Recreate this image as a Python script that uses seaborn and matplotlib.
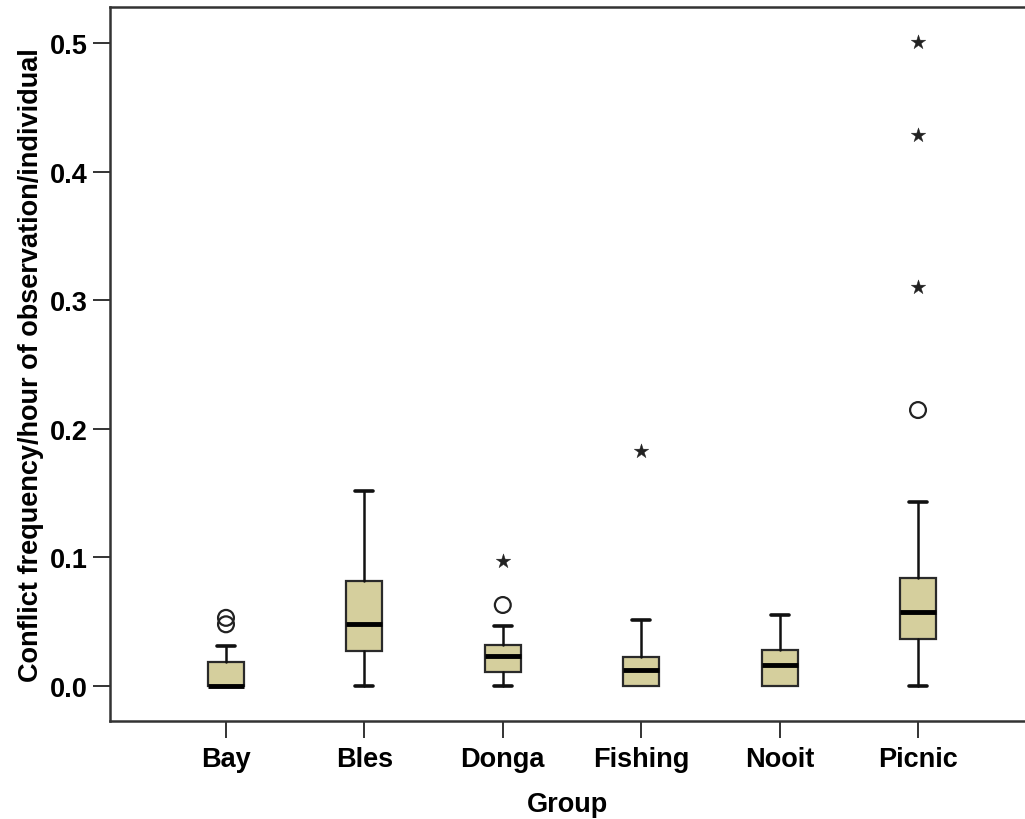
"""SPSS-style boxplot of conflict frequency per group, redrawn with seaborn."""

import matplotlib

matplotlib.use("Agg")

import matplotlib.pyplot as plt
import pandas as pd
import seaborn as sns

# box statistics
groups = ["Bay", "Bles", "Donga", "Fishing", "Nooit", "Picnic"]
whisker_low = [0.0, 0.0, 0.0, 0.0, 0.0, 0.0]
q1 = [0.0, 0.027, 0.0107, 0.0, 0.0, 0.0365]
median = [0.0, 0.048, 0.023, 0.0127, 0.0163, 0.0573]
q3 = [0.0187, 0.0817, 0.032, 0.0228, 0.028, 0.084]
whisker_high = [0.031, 0.1516, 0.047, 0.051, 0.055, 0.1433]

# outliers (circles) and extremes (stars)
outlier_group = ["Bay", "Bay", "Donga", "Picnic"]
outlier_value = [0.053, 0.048, 0.063, 0.2146]
extreme_group = ["Donga", "Fishing", "Picnic", "Picnic", "Picnic"]
extreme_value = [0.0975, 0.1825, 0.31, 0.4287, 0.5005]

BOX_COLOR = "#D5CF9D"
INK = "#111111"

sns.set_theme(style="white")
plt.rcParams["font.family"] = ["Liberation Sans", "DejaVu Sans"]
plt.rcParams["font.weight"] = "bold"
plt.rcParams["text.color"] = "black"
plt.rcParams["axes.labelcolor"] = "black"
plt.rcParams["xtick.color"] = "black"
plt.rcParams["ytick.color"] = "black"

fig = plt.figure(figsize=(10.25, 8.2), dpi=100)
ax = fig.add_axes([110 / 1025, 1 - 722 / 820, 1 - 110 / 1025, (722 - 8) / 820])

stats = [
    {"label": g, "whislo": lo, "q1": a, "med": m, "q3": b, "whishi": hi, "fliers": []}
    for g, lo, a, m, b, hi in zip(groups, whisker_low, q1, median, q3, whisker_high)
]
parts = ax.bxp(
    stats,
    positions=range(len(groups)),
    widths=0.26,
    capwidths=0.13,
    patch_artist=True,
    showfliers=False,
    boxprops=dict(facecolor=BOX_COLOR, edgecolor="#2a2a2a", linewidth=1.6),
    medianprops=dict(color="black", linewidth=3.5, solid_capstyle="butt"),
    whiskerprops=dict(color=INK, linewidth=1.8),
    capprops=dict(color=INK, linewidth=2.6),
)
# SPSS draws no lower cap when the whisker has zero length
for i, (lo, a) in enumerate(zip(whisker_low, q1)):
    if lo >= a:
        parts["caps"][2 * i].set_visible(False)

pos = {g: i for i, g in enumerate(groups)}
circles = pd.DataFrame({"x": [pos[g] for g in outlier_group], "y": outlier_value})
stars = pd.DataFrame({"x": [pos[g] for g in extreme_group], "y": extreme_value})

sns.scatterplot(
    data=circles, x="x", y="y", ax=ax, marker="o", s=130,
    facecolor="none", edgecolor="#222222", linewidth=1.6, zorder=5,
)
sns.scatterplot(
    data=stars, x="x", y="y", ax=ax, marker="*", s=120,
    color="#222222", edgecolor="#222222", linewidth=0.3, zorder=5,
)

ax.set_xlim(-0.838, 5.773)
ax.set_ylim(-0.0272, 0.528)
ax.set_xticks(range(len(groups)))
ax.set_xticklabels(groups)
ax.set_yticks([0.0, 0.1, 0.2, 0.3, 0.4, 0.5])
ax.set_yticklabels(["0.0", "0.1", "0.2", "0.3", "0.4", "0.5"])

for side in ["left", "bottom", "top"]:
    ax.spines[side].set_color("#333333")
    ax.spines[side].set_linewidth(1.8)
ax.spines["right"].set_visible(False)

ax.tick_params(axis="both", which="major", length=12, width=1.4,
               color="#333333", labelcolor="black", labelsize=19.5, pad=4,
               direction="out")
ax.tick_params(axis="x", bottom=True, pad=6)
ax.tick_params(axis="y", left=True)

ax.set_xlabel("Group", fontsize=19.5, fontweight="bold", labelpad=14)
ax.set_ylabel("Conflict frequency/hour of observation/individual",
              fontsize=19.5, fontweight="bold", labelpad=4)

fig.savefig("out.png", dpi=100)
